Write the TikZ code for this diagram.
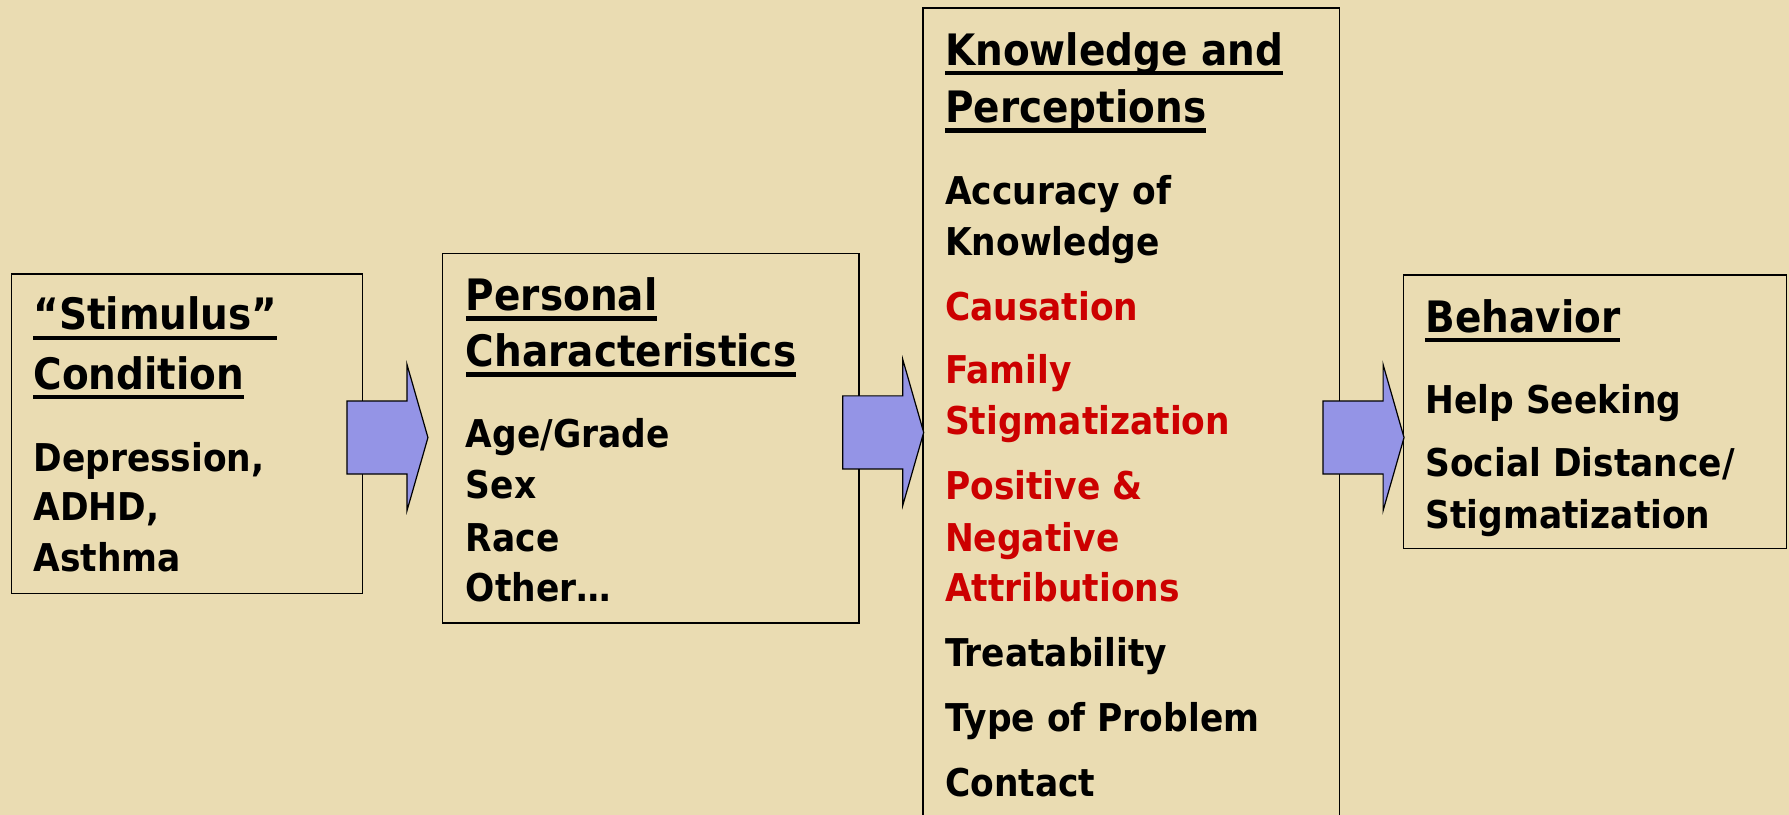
\documentclass[tikz,border=0pt]{standalone}
\usepackage{fontspec}
\setmainfont{DejaVu Sans}[FakeStretch=0.9]
\usetikzlibrary{shapes.arrows}

\definecolor{parch}{RGB}{234,220,178}
\definecolor{blockblue}{RGB}{148,148,230}
\definecolor{hotred}{RGB}{204,0,0}

% underlined heading line
\newcommand{\hd}[1]{\setbox0\hbox{#1}\rlap{\rule[-5.2pt]{\wd0}{2.2pt}}\box0}

\tikzset{
  box/.style={draw, line width=0.7pt, rectangle, inner sep=0pt},
  head/.style={anchor=base west, inner sep=0pt, font=\fontsize{21.6}{26}\selectfont\bfseries},
  item/.style={anchor=base west, inner sep=0pt, font=\fontsize{19.1}{23}\selectfont\bfseries},
  reditem/.style={item, text=hotred},
  blockarrow/.style={single arrow, draw, line width=0.6pt, fill=blockblue,
    minimum height=1.42cm, minimum width=2.54cm, single arrow head extend=0.64cm,
    single arrow tip angle=148, inner xsep=0pt, inner ysep=0.63cm}
}

\begin{document}
\begin{tikzpicture}[x=0.02cm, y=-0.02cm]

    \useasboundingbox (0,0) rectangle (1568,714.3);
    \fill[parch] (0,0) rectangle (1568,714.3);
    \clip (0,0) rectangle (1568,714.3);

    % the four boxes
    \node[box, minimum width=6.16cm, minimum height=5.6cm] (Stim) at (164,380) {};
    \node[box, minimum width=7.3cm, minimum height=6.48cm] (Pers) at (570.5,384) {};
    \node[box, minimum width=7.3cm, minimum height=14.6cm] (Know) at (991.5,372) {};
    \node[box, minimum width=6.72cm, minimum height=4.8cm] (Behav) at (1398,361) {};

    % stimulus condition
    \node[head] (StimA) at (29,289) {\hd{“Stimulus”}};
    \node[head] (StimB) at (29,341) {\hd{Condition}};
    \node[item] (Depr) at (29,413) {Depression,};
    \node[item] (Adhd) at (29,456) {ADHD,};
    \node[item] (Asth) at (29,501) {Asthma};

    % personal characteristics
    \node[head] (PersA) at (408,272) {\hd{Personal}};
    \node[head] (PersB) at (408,321) {\hd{Characteristics}};
    \node[item] (Age) at (408,392) {Age/Grade};
    \node[item] (Sex) at (408,437) {Sex};
    \node[item] (Race) at (408,483) {Race};
    \node[item] (Other) at (408,527) {Other…};

    % knowledge and perceptions
    \node[head] (KnowA) at (828,57) {\hd{Knowledge and}};
    \node[head] (KnowB) at (828,107) {\hd{Perceptions}};
    \node[item] (AccA) at (828,179) {Accuracy of};
    \node[item] (AccB) at (828,224) {Knowledge};
    \node[reditem] (Caus) at (828,281) {Causation};
    \node[reditem] (FamA) at (828,336) {Family};
    \node[reditem] (FamB) at (828,381) {Stigmatization};
    \node[reditem] (AttA) at (828,438) {Positive \&};
    \node[reditem] (AttB) at (828,483) {Negative};
    \node[reditem] (AttC) at (828,527) {Attributions};
    \node[item] (Treat) at (828,584) {Treatability};
    \node[item] (Type) at (828,641) {Type of Problem};
    \node[item] (Cont) at (828,698) {Contact};

    % behavior
    \node[head] (BehA) at (1249,291) {\hd{Behavior}};
    \node[item] (Help) at (1249,362) {Help Seeking};
    \node[item] (SocA) at (1249,418) {Social Distance/};
    \node[item] (SocB) at (1249,463) {Stigmatization};

    % block arrows
    \node[blockarrow] (ArrA) at (335,383.5) {};
    \node[blockarrow] (ArrB) at (769.5,379) {};
    \node[blockarrow] (ArrC) at (1190.5,383.5) {};

\end{tikzpicture}
\end{document}
